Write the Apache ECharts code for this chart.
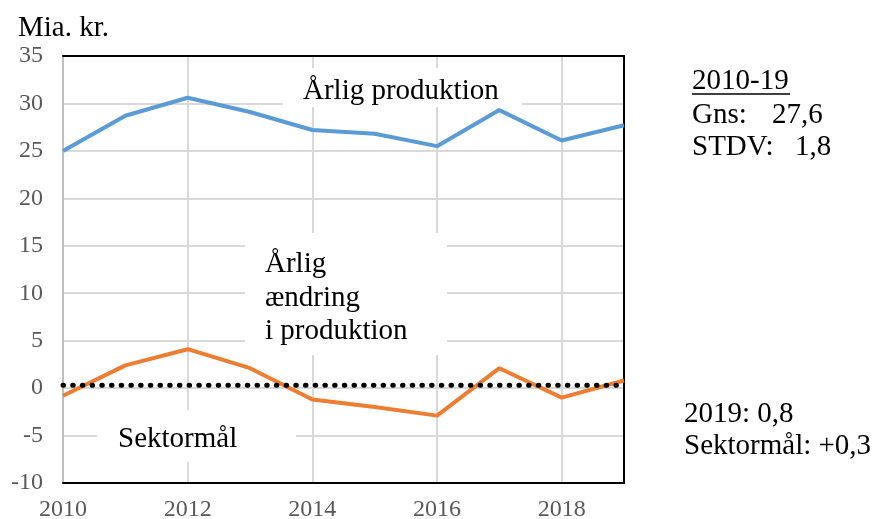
<!DOCTYPE html>
<html>
<head>
<meta charset="utf-8">
<script src="https://cdn.jsdelivr.net/npm/echarts@6/dist/echarts.min.js"></script>
<style>
  html, body { margin: 0; padding: 0; background: #fff; }
  #chart { width: 874px; height: 519px; }
</style>
</head>
<body>
<div id="chart"></div>
<script>
// years on the x axis
var years = ['2010','2011','2012','2013','2014','2015','2016','2017','2018','2019'];
// Årlig produktion (mia. kr.)
var produktion = [25.0, 28.7, 30.6, 29.1, 27.2, 26.8, 25.5, 29.3, 26.1, 27.7];
// Årlig ændring i produktion
var aendring = [-0.8, 2.4, 4.1, 2.1, -1.2, -2.0, -2.9, 2.1, -1.0, 0.8];
// Sektormål
var sektormaal = [0.3, 0.3, 0.3, 0.3, 0.3, 0.3, 0.3, 0.3, 0.3, 0.3];

var serif = '"Liberation Serif", "Times New Roman", serif';
var chart = echarts.init(document.getElementById('chart'));

function txt(x, y, s, size) {
  return {
    type: 'text', left: x, top: y + 6, z: 5,
    style: { text: s, fill: '#000', font: (size || 29) + 'px ' + serif }
  };
}
function box(x, y, w, h) {
  return { type: 'rect', shape: { x: x, y: y, width: w, height: h }, style: { fill: '#fff' }, z: 1 };
}

var option = {
  animation: false,
  backgroundColor: '#fff',
  grid: { left: 63, right: 250, top: 56, bottom: 36, outerBoundsMode: 'none' },
  xAxis: [{
    type: 'category',
    data: years,
    boundaryGap: false,
    axisLine: { onZero: false, lineStyle: { color: '#000', width: 2 } },
    axisTick: { show: false },
    axisLabel: { interval: 1, color: '#595959', fontSize: 24, fontFamily: serif, margin: 15 },
    splitLine: { show: true, interval: 1, lineStyle: { color: '#d9d9d9', width: 2 } }
  }, {
    // top frame line
    type: 'category', position: 'top', data: years, boundaryGap: false,
    axisLine: { onZero: false, lineStyle: { color: '#000', width: 2 } },
    axisTick: { show: false }, axisLabel: { show: false }, splitLine: { show: false }
  }],
  yAxis: [{
    type: 'value',
    min: -10, max: 35, interval: 5,
    axisLine: { show: true, onZero: false, lineStyle: { color: '#bfbfbf', width: 2 } },
    axisTick: { show: false },
    axisLabel: { color: '#595959', fontSize: 24, fontFamily: serif, margin: 20 },
    splitLine: { lineStyle: { color: '#d9d9d9', width: 2 } }
  }, {
    // right frame line
    type: 'value', position: 'right', min: -10, max: 35, interval: 5,
    axisLine: { show: true, onZero: false, lineStyle: { color: '#000', width: 2 } },
    axisTick: { show: false }, axisLabel: { show: false }, splitLine: { show: false }
  }],
  series: [
    { name: 'Årlig produktion', type: 'line', data: produktion, showSymbol: false, z: 3,
      lineStyle: { color: '#5b9bd5', width: 4 } },
    { name: 'Årlig ændring i produktion', type: 'line', data: aendring, showSymbol: false, z: 3,
      lineStyle: { color: '#ed7d31', width: 4 } },
    { name: 'Sektormål', type: 'line', data: sektormaal, showSymbol: false, z: 4,
      lineStyle: { color: '#000', width: 5, type: [0.5, 9.2], cap: 'round' } }
  ],
  graphic: [
    box(283, 68, 239, 39),
    box(245, 233, 202, 122),
    box(97, 410, 199, 52),
    txt(18, 8, 'Mia. kr.'),
    txt(303, 71, 'Årlig produktion'),
    txt(265, 244, 'Årlig'),
    txt(265, 278, 'ændring'),
    txt(265, 311, 'i produktion'),
    txt(118, 419, 'Sektormål'),
    txt(692, 61, '2010-19'),
    { type: 'line', shape: { x1: 692, y1: 94, x2: 790, y2: 94 }, style: { stroke: '#000', lineWidth: 1.5 }, z: 5 },
    txt(692, 95, 'Gns:'),
    txt(772, 95, '27,6'),
    txt(692, 127, 'STDV:'),
    txt(795, 127, '1,8'),
    txt(684, 394, '2019: 0,8'),
    txt(684, 426, 'Sektormål: +0,3')
  ]
};
chart.setOption(option);
</script>
</body>
</html>
